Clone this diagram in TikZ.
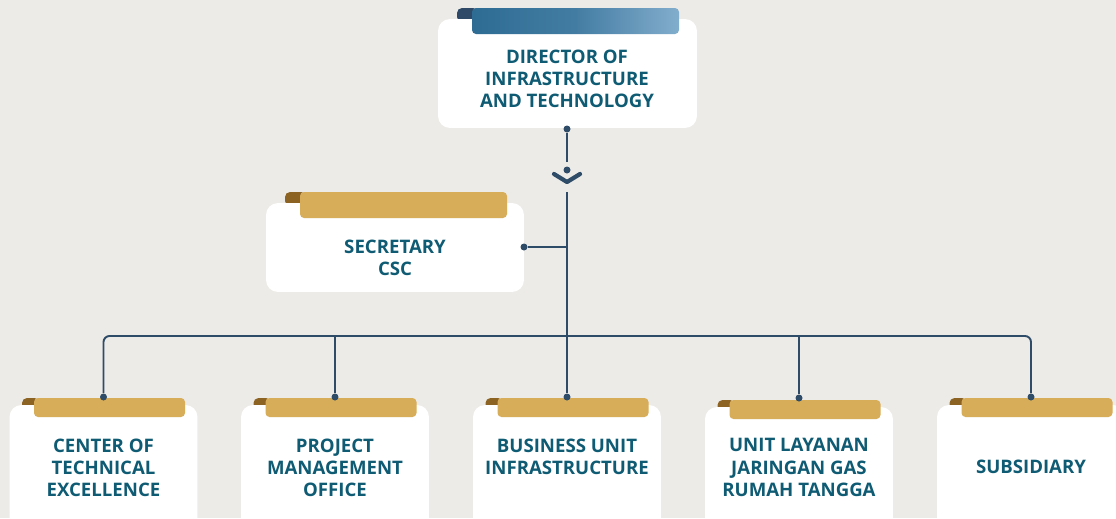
\documentclass[tikz,border=0pt]{standalone}
\usepackage{fontspec}
\setmainfont{Open Sans}
\usetikzlibrary{positioning}

\definecolor{bgcol}{HTML}{EDEBE7}
\definecolor{txtcol}{HTML}{0E5B73}
\definecolor{linecol}{HTML}{2E4C68}
\definecolor{goldcol}{HTML}{D7AD5A}
\definecolor{curlcol}{HTML}{8C6322}
\definecolor{bluedark}{HTML}{2E6C94}
\definecolor{bluelight}{HTML}{82ADCD}
\definecolor{bluecurl}{HTML}{2E4A68}

\tikzset{
	whitebox/.style={fill=white, draw=none, rounded corners=0.24cm, inner sep=0pt},
	boxtext/.style={text=txtcol, align=center, font=\bfseries\fontsize{10.6}{12.6}\selectfont, inner sep=0pt},
	conn/.style={draw=linecol, line width=1.1pt},
	dot/.style={circle, fill=linecol, inner sep=0pt, minimum size=0.14cm},
	tab/.style={fill=goldcol, rounded corners=0.08cm},
	curl/.style={fill=curlcol, rounded corners=0.1cm}
}

\begin{document}
\begin{tikzpicture}[x=0.02cm, y=-0.02cm]
	
	\fill[bgcol] (0,0) rectangle (1116,518);
	\useasboundingbox (0,0) rectangle (1116,518);
	\clip (0,0) rectangle (1116,518);
	
	% director
	\fill[bluecurl, rounded corners=0.1cm] (457,8) rectangle (478,22);
	\node[whitebox, minimum width=5.18cm, minimum height=2.18cm] (dir) at (567.5,73.5) {};
	\shade[left color=bluedark, right color=bluelight, middle color=bluedark!75!bluelight, rounded corners=0.08cm] (472,8) rectangle (679,34);
	\node[boxtext] (dirtext) at (567,79) {DIRECTOR OF\\INFRASTRUCTURE\\AND TECHNOLOGY};
	
	% secretary
	\fill[curl] (285,192) rectangle (306,206);
	\node[whitebox, minimum width=5.16cm, minimum height=1.78cm] (sec) at (395,247.5) {};
	\fill[tab] (300,192) rectangle (507,218);
	\node[boxtext] (sectext) at (395,257.5) {SECRETARY\\CSC};
	
	% bottom units
	\begin{scope}[shift={(103.5,0)}]
		\fill[curl] (-81.5,398) rectangle (-64,410);
		\node[whitebox, minimum width=3.76cm, minimum height=2.5cm] (cte) at (0,467.5) {};
		\fill[tab] (-69.5,398) rectangle (81.5,417);
		\node[boxtext] (ctetext) at (0,467.5) {CENTER OF\\TECHNICAL\\EXCELLENCE};
	\end{scope}
	
	\begin{scope}[shift={(335,0)}]
		\fill[curl] (-81.5,398) rectangle (-64,410);
		\node[whitebox, minimum width=3.76cm, minimum height=2.5cm] (pmo) at (0,467.5) {};
		\fill[tab] (-69.5,398) rectangle (81.5,417);
		\node[boxtext] (pmotext) at (0,467.5) {PROJECT\\MANAGEMENT\\OFFICE};
	\end{scope}
	
	\begin{scope}[shift={(567,0)}]
		\fill[curl] (-81.5,398) rectangle (-64,410);
		\node[whitebox, minimum width=3.76cm, minimum height=2.5cm] (bui) at (0,467.5) {};
		\fill[tab] (-69.5,398) rectangle (81.5,417);
		\node[boxtext] (buitext) at (0,456.5) {BUSINESS UNIT\\INFRASTRUCTURE};
	\end{scope}
	
	\begin{scope}[shift={(799,0)}]
		\fill[curl] (-81.5,400) rectangle (-64,412);
		\node[whitebox, minimum width=3.76cm, minimum height=2.5cm] (ulj) at (0,469.5) {};
		\fill[tab] (-69.5,400) rectangle (81.5,419);
		\node[boxtext] (uljtext) at (0,467.5) {UNIT LAYANAN\\JARINGAN GAS\\RUMAH TANGGA};
	\end{scope}
	
	\begin{scope}[shift={(1031,0)}]
		\fill[curl] (-81.5,398) rectangle (-64,410);
		\node[whitebox, minimum width=3.76cm, minimum height=2.5cm] (sub) at (0,467.5) {};
		\fill[tab] (-69.5,398) rectangle (81.5,417);
		\node[boxtext] (subtext) at (0,467) {SUBSIDIARY};
	\end{scope}
	
	% connectors
	\node[dot] (dirdot) at (567,129) {};
	\node[dot] (chevdot) at (567,170) {};
	\coordinate (trunktop) at (567,162);
	\coordinate (trunkmid) at (567,192);
	\node[dot] (secdot) at (524,247) {};
	\node[dot] (ctedot) at (103.5,397) {};
	\node[dot] (pmodot) at (335,397) {};
	\node[dot] (buidot) at (567,397) {};
	\node[dot] (uljdot) at (799,398) {};
	\node[dot] (subdot) at (1031,397) {};
	\coordinate (bus) at (567,336);
	
	\draw[conn] (dirdot) -- (trunktop);
	\draw[draw=linecol, line width=2.4pt, line cap=round, line join=round] ([shift={(-13,4)}]chevdot.center) -- ([shift={(0,12)}]chevdot.center) -- ([shift={(13,4)}]chevdot.center);
	\draw[conn] (trunkmid) -- (buidot);
	\draw[conn] (secdot) -- (secdot -| trunkmid);
	\draw[conn, rounded corners=0.12cm] (ctedot) |- (bus) -| (subdot);
	\draw[conn] (pmodot) -- (pmodot |- bus);
	\draw[conn] (uljdot) -- (uljdot |- bus);
	
\end{tikzpicture}
\end{document}
